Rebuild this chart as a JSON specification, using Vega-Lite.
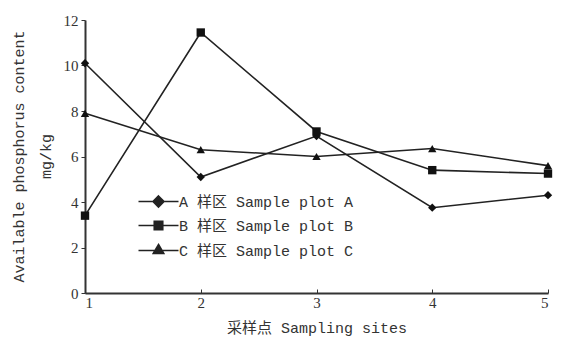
{
  "$schema": "https://vega.github.io/schema/vega-lite/v6.json",
  "width": 463,
  "height": 273,
  "autosize": "none",
  "padding": {"left": 85, "top": 20, "right": 40, "bottom": 57},
  "background": "white",
  "config": {
    "view": {"stroke": null},
    "font": "Liberation Serif",
    "axis": {"grid": false, "domainColor": "#333", "domainWidth": 2, "tickColor": "#333", "labelColor": "#333", "titleColor": "#333", "labelFont": "Liberation Serif", "labelFontSize": 15, "titleFont": "Liberation Mono, Noto Sans CJK SC", "titleFontSize": 15, "titleFontWeight": "normal"}
  },
  "data": {
    "values": [
      {"series": "A 样区 Sample plot A", "site": 1, "value": 10.1},
      {"series": "A 样区 Sample plot A", "site": 2, "value": 5.1},
      {"series": "A 样区 Sample plot A", "site": 3, "value": 6.9},
      {"series": "A 样区 Sample plot A", "site": 4, "value": 3.75},
      {"series": "A 样区 Sample plot A", "site": 5, "value": 4.3},
      {"series": "B 样区 Sample plot B", "site": 1, "value": 3.4},
      {"series": "B 样区 Sample plot B", "site": 2, "value": 11.45},
      {"series": "B 样区 Sample plot B", "site": 3, "value": 7.1},
      {"series": "B 样区 Sample plot B", "site": 4, "value": 5.4},
      {"series": "B 样区 Sample plot B", "site": 5, "value": 5.25},
      {"series": "C 样区 Sample plot C", "site": 1, "value": 7.9},
      {"series": "C 样区 Sample plot C", "site": 2, "value": 6.3},
      {"series": "C 样区 Sample plot C", "site": 3, "value": 6.0},
      {"series": "C 样区 Sample plot C", "site": 4, "value": 6.35},
      {"series": "C 样区 Sample plot C", "site": 5, "value": 5.6}
    ]
  },
  "encoding": {
    "x": {"field": "site", "type": "quantitative", "scale": {"domain": [1, 5], "nice": false},
      "axis": {"values": [1, 2, 3, 4, 5], "format": "d", "tickSize": -4, "labelPadding": 6, "title": "采样点 Sampling sites", "titlePadding": 10}},
    "y": {"field": "value", "type": "quantitative", "scale": {"domain": [0, 12], "nice": false},
      "axis": {"values": [0, 2, 4, 6, 8, 10, 12], "tickSize": 4, "labelPadding": 3, "title": ["Available phosphorus content", "mg/kg"], "titleLineHeight": 27, "titleX": -67, "titleY": 136, "titleAngle": -90, "titleAlign": "center", "titleBaseline": "middle"}}
  },
  "resolve": {"scale": {"shape": "independent"}, "legend": {"shape": "independent"}},
  "layer": [
    {
      "mark": {"type": "line", "color": "#222", "strokeWidth": 1.6},
      "encoding": {"detail": {"field": "series"}}
    },
    {
      "mark": {"type": "point", "filled": true, "color": "#111", "opacity": 1, "size": 70},
      "encoding": {"shape": {"field": "series", "type": "nominal", "scale": {"range": ["diamond", "square", "triangle-up"]}, "legend": null}}
    },
    {
      "mark": {"type": "point", "filled": false, "color": "#111", "opacity": 0, "size": 70},
      "encoding": {"shape": {"field": "series", "type": "nominal",
        "scale": {"range": [
          "M-4,0L4,0M0,-1.1L1.1,0L0,1.1L-1.1,0ZM0,-0.75L0.75,0L0,0.75L-0.75,0ZM0,-0.4L0.4,0L0,0.4L-0.4,0Z",
          "M-4,0L4,0M-0.85,-0.85L0.85,-0.85L0.85,0.85L-0.85,0.85ZM-0.55,-0.55L0.55,-0.55L0.55,0.55L-0.55,0.55ZM-0.25,-0.25L0.25,-0.25L0.25,0.25L-0.25,0.25Z",
          "M-4,0L4,0M0,-1.2L1.05,0.6L-1.05,0.6ZM0,-0.72L0.63,0.36L-0.63,0.36ZM0,-0.24L0.21,0.12L-0.21,0.12Z"]},
        "legend": {"title": null, "orient": "none", "legendX": 66, "legendY": 174, "padding": 0, "symbolSize": 100, "symbolStrokeWidth": 1.6, "symbolStrokeColor": "#222", "symbolOpacity": 1, "labelOffset": 13, "rowPadding": 7, "labelFont": "Liberation Mono, Noto Sans CJK SC", "labelFontSize": 15, "labelColor": "#333", "labelLimit": 400,
          "encode": {"symbols": {"update": {"opacity": {"value": 1}}}}}}}
    }
  ]
}
